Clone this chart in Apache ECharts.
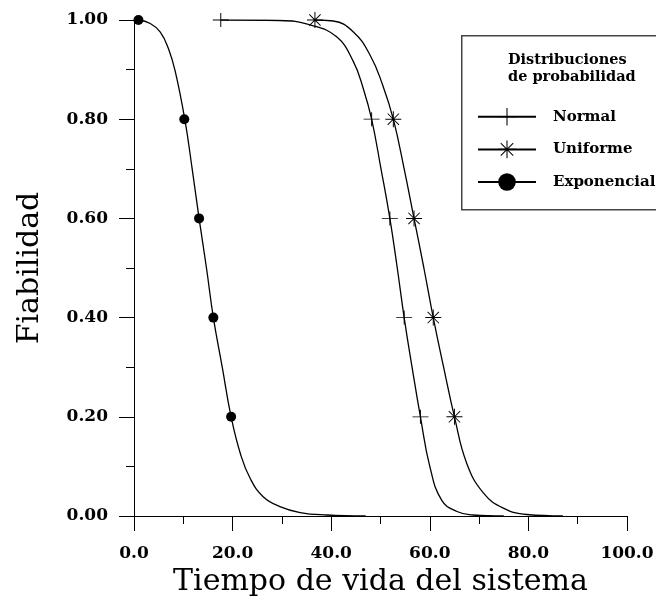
<!DOCTYPE html>
<html>
<head>
<meta charset="utf-8">
<script src="https://cdn.jsdelivr.net/npm/echarts@6/dist/echarts.min.js"></script>
<style>
  html, body { margin: 0; padding: 0; background: #fff; }
  #chart { width: 656px; height: 596px; }
</style>
</head>
<body>
<div id="chart"></div>
<script>
  // valores
  let seriesNames = ['Normal', 'Uniforme', 'Exponencial'];
  let xTicks = [0, 20, 40, 60, 80, 100];
  let yTicks = [0, 0.2, 0.4, 0.6, 0.8, 1.0];

  let normalCurve = [[17.6, 1.0], [29.6, 0.999], [35.7, 0.99], [41.1, 0.966], [44.5, 0.916], [46.5, 0.862],
    [48.2, 0.8], [50.1, 0.7], [51.9, 0.6], [53.4, 0.5], [54.8, 0.4], [56.4, 0.3], [58.1, 0.2],
    [60.0, 0.1], [62.4, 0.032], [65.5, 0.009], [68.8, 0.002], [75.0, 0]];
  let normalMarks = [[17.6, 1.0], [48.2, 0.8], [51.9, 0.6], [54.8, 0.4], [58.1, 0.2]];

  let uniformCurve = [[36.7, 1.0], [40.4, 0.998], [44.5, 0.976], [47.9, 0.929], [50.4, 0.87],
    [52.6, 0.8], [54.8, 0.7], [56.8, 0.6], [58.8, 0.5], [60.7, 0.4], [62.8, 0.3], [65.0, 0.2],
    [67.5, 0.106], [70.9, 0.046], [74.9, 0.016], [79.7, 0.003], [87.0, 0]];
  let uniformMarks = [[36.7, 1.0], [52.6, 0.8], [56.8, 0.6], [60.7, 0.4], [65.0, 0.2]];

  let expCurve = [[0.9, 1.0], [3.3, 0.993], [5.3, 0.976], [7.0, 0.942], [8.4, 0.895],
    [10.3, 0.8], [11.8, 0.7], [13.2, 0.6], [14.7, 0.5], [16.1, 0.4], [17.9, 0.3], [19.7, 0.2],
    [21.6, 0.125], [23.6, 0.075], [26.2, 0.039], [29.6, 0.019], [33.7, 0.007], [39.1, 0.002], [47.0, 0]];
  let expMarks = [[0.9, 1.0], [10.2, 0.8], [13.2, 0.6], [16.1, 0.4], [19.7, 0.2]];

  let plusPath = 'path://M0,9.4H20V10.6H0Z M9.4,0H10.6V20H9.4Z';
  let starPath = 'path://M0,9.4H20V10.6H0Z M9.4,0H10.6V20H9.4Z M2.5,3.3L3.3,2.5L17.5,16.7L16.7,17.5Z M3.3,17.5L2.5,16.7L16.7,2.5L17.5,3.3Z';

  let serif = 'DejaVu Serif';

  function curveSeries(name, data, symbol) {
    return {
      name: name,
      type: 'line',
      data: data,
      smooth: 0.45,
      showSymbol: false,
      symbol: symbol,
      color: '#000',
      lineStyle: { color: '#000', width: 1.3 },
      itemStyle: { color: '#000', opacity: 1 },
      silent: true,
      z: 2
    };
  }

  function markSeries(name, data, symbol, size) {
    return {
      name: name + '_m',
      type: 'scatter',
      data: data,
      symbol: symbol,
      symbolSize: size,
      itemStyle: { color: '#000', opacity: 1 },
      silent: true,
      z: 3
    };
  }

  let chart = echarts.init(document.getElementById('chart'));
  let option = {
    animation: false,
    backgroundColor: '#fff',
    grid: { left: 134, right: 29, top: 20, bottom: 80, outerBoundsMode: 'none', containLabel: false },
    xAxis: {
      type: 'value',
      min: xTicks[0],
      max: xTicks[xTicks.length - 1],
      interval: 20,
      name: 'Tiempo de vida del sistema',
      nameLocation: 'middle',
      nameGap: 43,
      nameTextStyle: { fontFamily: serif, fontSize: 30, color: '#000' },
      axisLine: { lineStyle: { color: '#000', width: 1 } },
      axisTick: { length: 15, lineStyle: { color: '#000' } },
      minorTick: { show: true, splitNumber: 2, length: 8, lineStyle: { color: '#000' } },
      splitLine: { show: false },
      axisLabel: {
        margin: 29,
        fontFamily: serif, fontWeight: 'bold', fontSize: 17, color: '#000',
        formatter: function (v) { return v.toFixed(1); }
      }
    },
    yAxis: {
      type: 'value',
      min: yTicks[0],
      max: yTicks[yTicks.length - 1],
      interval: 0.2,
      name: 'Fiabilidad',
      nameLocation: 'middle',
      nameGap: 89,
      nameTextStyle: { fontFamily: serif, fontSize: 30, color: '#000' },
      axisLine: { show: true, lineStyle: { color: '#000', width: 1 } },
      axisTick: { show: true, length: 15, lineStyle: { color: '#000' } },
      minorTick: { show: true, splitNumber: 2, length: 8, lineStyle: { color: '#000' } },
      splitLine: { show: false },
      axisLabel: {
        margin: 26,
        fontFamily: serif, fontWeight: 'bold', fontSize: 17, color: '#000',
        formatter: function (v) { return v.toFixed(2); }
      }
    },
    legend: {
      data: seriesNames,
      orient: 'vertical',
      left: 477,
      top: 108,
      padding: 0,
      itemWidth: 58,
      itemHeight: 22,
      itemGap: 15,
      selectedMode: false,
      textStyle: {
        fontFamily: serif, fontWeight: 'bold', fontSize: 15, color: '#000',
        padding: [0, 0, 0, 12]
      }
    },
    graphic: [
      {
        type: 'rect',
        left: 461, top: 35,
        shape: { width: 210, height: 174 },
        style: { fill: '#fff', stroke: '#444', lineWidth: 1.5 },
        z: 0
      },
      {
        type: 'text',
        left: 508, top: 52,
        style: {
          text: 'Distribuciones\nde probabilidad',
          fontFamily: serif, fontWeight: 'bold', fontSize: 14.5,
          lineHeight: 17, align: 'center', fill: '#000'
        },
        z: 1
      }
    ],
    series: [
      curveSeries(seriesNames[0], normalCurve, plusPath),
      curveSeries(seriesNames[1], uniformCurve, starPath),
      curveSeries(seriesNames[2], expCurve, 'circle'),
      markSeries(seriesNames[0], normalMarks, plusPath, [16, 14]),
      markSeries(seriesNames[1], uniformMarks, starPath, 16),
      markSeries(seriesNames[2], expMarks, 'circle', 10)
    ]
  };
  chart.setOption(option);
</script>
</body>
</html>
